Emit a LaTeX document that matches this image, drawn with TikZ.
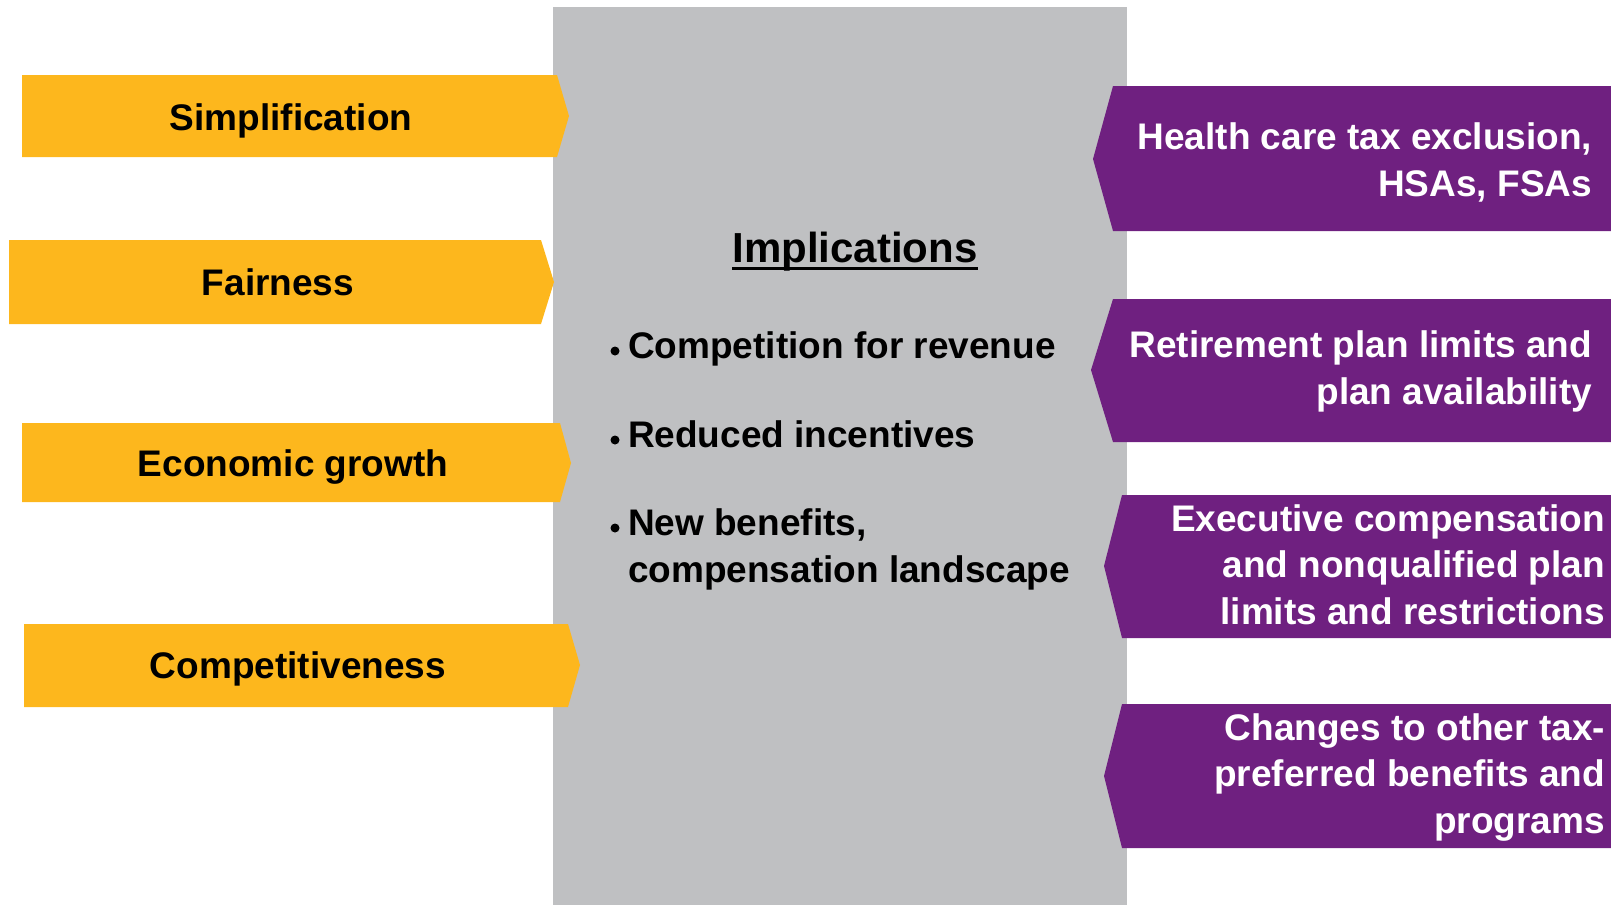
\documentclass[tikz,border=0pt]{standalone}
\usepackage{fontspec}
\setmainfont{Liberation Sans}
\begin{document}
\begin{tikzpicture}[x=1pt,y=-1pt,
  every node/.style={inner sep=0pt,outer sep=0pt},
  lbl/.style={font=\fontsize{37}{46.5}\selectfont\bfseries},
  darklbl/.style={lbl,text=black},
  lightlbl/.style={lbl,text=white,align=right},
  goldfill/.style={fill=goldarrow},
  plumfill/.style={fill=plumarrow}]
\definecolor{goldarrow}{HTML}{FDB71D}
\definecolor{plumarrow}{HTML}{6F2080}
\definecolor{panelgray}{HTML}{BFC0C2}
\useasboundingbox (0,0) rectangle (1611,905);

% central panel
\fill[panelgray] (553,7) rectangle (1127,905);

% left arrows (pointing right)
\fill[goldfill] (22,75) -- (557,75) -- (569,116) -- (557,157) -- (22,157) -- cycle;
\fill[goldfill] (9,240) -- (541,240) -- (554,282) -- (541,324) -- (9,324) -- cycle;
\fill[goldfill] (22,423) -- (560,423) -- (571,463) -- (560,502) -- (22,502) -- cycle;
\fill[goldfill] (24,624) -- (568,624) -- (580,665) -- (568,707) -- (24,707) -- cycle;

\node[darklbl,anchor=base] (simp) at (291,130) {Simplification};
\node[darklbl,anchor=base] (fair) at (278,295) {Fairness};
\node[darklbl,anchor=base] (econ) at (293,476) {Economic growth};
\node[darklbl,anchor=base] (comp) at (298,678) {Competitiveness};

% right arrows (pointing left)
\fill[plumfill] (1611,86) -- (1113,86) -- (1093,159) -- (1113,231) -- (1611,231) -- cycle;
\fill[plumfill] (1611,299) -- (1113,299) -- (1091,370) -- (1113,442) -- (1611,442) -- cycle;
\fill[plumfill] (1611,495) -- (1122,495) -- (1104,566) -- (1122,638) -- (1611,638) -- cycle;
\fill[plumfill] (1611,704) -- (1122,704) -- (1104,776) -- (1122,848) -- (1611,848) -- cycle;

% multi-line labels are anchored on the baseline of their last line
\node[lightlbl,anchor=base east] (hc) at (1592,196) {Health care tax exclusion,\\HSAs, FSAs};
\node[lightlbl,anchor=base east] (ret) at (1592,404) {Retirement plan limits and\\plan availability};
\node[lightlbl,anchor=base east] (exe) at (1605,624) {Executive compensation\\and nonqualified plan\\limits and restrictions};
\node[lightlbl,anchor=base east] (chg) at (1605,833) {Changes to other tax-\\preferred benefits and\\programs};

% panel heading and bullet points
\node[font=\fontsize{42}{50}\selectfont\bfseries,anchor=base] (imp) at (855,262) {Implications};
\draw[line width=2.6pt] ([yshift=-6.5pt]imp.base west) -- ([yshift=-6.5pt]imp.base east);

\node[darklbl,anchor=base west] (p1) at (628,358) {Competition for revenue};
\node[darklbl,anchor=base west] (p2) at (628,447) {Reduced incentives};
\node[darklbl,anchor=base west,align=left] (p3) at (628,582) {New benefits,\\compensation landscape};
\coordinate (d1) at (615,351);
\coordinate (d2) at (615,440);
\coordinate (d3) at (615,528);
\foreach \d in {d1,d2,d3}
  \fill (\d) circle (4.5pt);
\end{tikzpicture}
\end{document}
